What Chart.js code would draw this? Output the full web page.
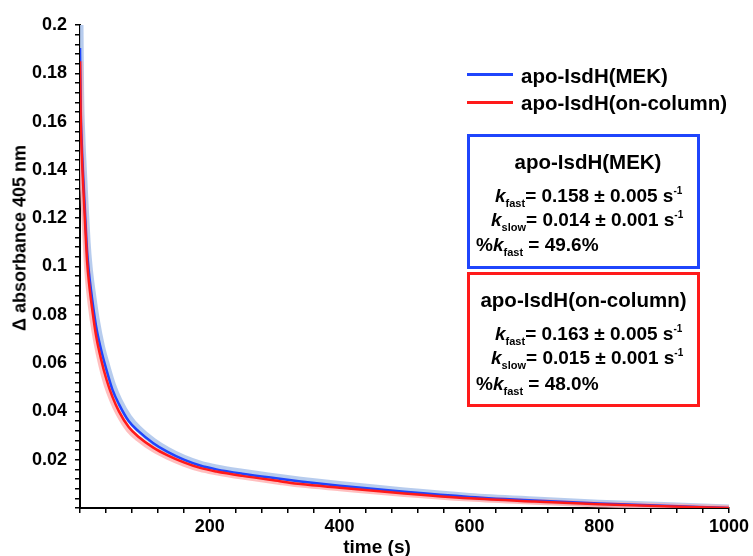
<!DOCTYPE html>
<html>
<head>
<meta charset="utf-8">
<script src="https://cdn.jsdelivr.net/npm/chart.js@4/dist/chart.umd.min.js"></script>
<style>
  html, body { margin:0; padding:0; background:#fff; overflow:hidden; }
  #wrap { position:relative; width:753px; height:556px; font-family: Arial, "Liberation Sans", Helvetica, sans-serif; font-weight:bold; color:#000; }
  canvas { position:absolute; left:0; top:0; }
  .abs { position:absolute; white-space:nowrap; }
  .leg { font-size:20.5px; line-height:22px; }
  .swatch { position:absolute; height:3px; width:46px; }
  .box { position:absolute; border:3px solid; box-sizing:border-box; }
  .bt { font-size:20.5px; line-height:22px; text-align:center; }
  .ln { font-size:19px; line-height:20px; }
  .ln i { font-style:italic; }
  .ln sub { font-size:11px; line-height:0; vertical-align:baseline; position:relative; top:5px; }
  .ln sup { font-size:10px; line-height:0; vertical-align:baseline; position:relative; top:-8px; }
</style>
</head>
<body>
<div id="wrap">
  <canvas id="c" width="753" height="556"></canvas>

  <div class="swatch" style="left:467px; top:73px; background:#1f45fc;"></div>
  <div class="abs leg" style="left:521px; top:65px;">apo-IsdH(MEK)</div>
  <div class="swatch" style="left:467px; top:101px; background:#ff1a1a;"></div>
  <div class="abs leg" style="left:521px; top:92px;">apo-IsdH(on-column)</div>

  <div class="box" style="left:467px; top:134px; width:233px; height:135px; border-color:#1f45fc;"></div>
  <div class="abs bt" style="left:470px; top:151px; width:236px;">apo-IsdH(MEK)</div>
  <div class="abs ln" style="left:495px; top:186px;"><i>k</i><sub>fast</sub>= 0.158 ± 0.005 s<sup>-1</sup></div>
  <div class="abs ln" style="left:491px; top:210px;"><i>k</i><sub>slow</sub>= 0.014 ± 0.001 s<sup>-1</sup></div>
  <div class="abs ln" style="left:476px; top:235px;">%<i>k</i><sub>fast</sub> = 49.6%</div>

  <div class="box" style="left:467px; top:272px; width:233px; height:135px; border-color:#ff1a1a;"></div>
  <div class="abs bt" style="left:467px; top:289px; width:233px;">apo-IsdH(on-column)</div>
  <div class="abs ln" style="left:495px; top:324px;"><i>k</i><sub>fast</sub>= 0.163 ± 0.005 s<sup>-1</sup></div>
  <div class="abs ln" style="left:491px; top:348px;"><i>k</i><sub>slow</sub>= 0.015 ± 0.001 s<sup>-1</sup></div>
  <div class="abs ln" style="left:476px; top:374px;">%<i>k</i><sub>fast</sub> = 48.0%</div>

  <div class="abs" style="left:377px; top:547px; transform:translate(-50%,-50%); font-size:19px;">time (s)</div>
  <div class="abs" style="left:20px; top:238px; transform:translate(-50%,-50%) rotate(-90deg); font-size:18px;">Δ absorbance 405 nm</div>
</div>
<script>
// ---- data ----
const time = [0, 1, 3, 5, 8, 11, 14, 19, 25, 33, 41, 50, 60, 75, 90, 113, 135, 160, 185, 210, 250, 308, 340, 400, 500, 600, 700, 800, 900, 1000];
const fitMEK = [0.1905, 0.167, 0.149, 0.137, 0.121, 0.106, 0.097, 0.086, 0.075, 0.065, 0.057, 0.049, 0.043, 0.036, 0.0318, 0.0268, 0.0232, 0.0200, 0.0176, 0.0160, 0.0142, 0.0121, 0.0110, 0.0092, 0.0067, 0.0046, 0.0031, 0.0019, 0.0009, 0.0];
const fitOnColumn = [0.185, 0.163, 0.145, 0.133, 0.117, 0.102, 0.093, 0.082, 0.071, 0.061, 0.053, 0.046, 0.040, 0.0335, 0.0295, 0.0250, 0.0218, 0.0189, 0.0166, 0.0151, 0.0133, 0.0111, 0.0099, 0.0084, 0.0060, 0.0040, 0.0027, 0.0016, 0.0007, 0.0];
const rawMEK = [0.2, 0.172, 0.153, 0.141, 0.125, 0.110, 0.100, 0.089, 0.078, 0.067, 0.059, 0.051, 0.0445, 0.0375, 0.0328, 0.0276, 0.0239, 0.0206, 0.0182, 0.0166, 0.0148, 0.0126, 0.0115, 0.0097, 0.0070, 0.0048, 0.0033, 0.0020, 0.0010, 0.0];
const rawOnColumn = [0.185, 0.160, 0.142, 0.130, 0.114, 0.099, 0.090, 0.079, 0.069, 0.059, 0.051, 0.0445, 0.0388, 0.0325, 0.0287, 0.0243, 0.0212, 0.0184, 0.0162, 0.0148, 0.0130, 0.0108, 0.0097, 0.0082, 0.0058, 0.0039, 0.0026, 0.0015, 0.0007, 0.0];
const seriesNames = ['apo-IsdH(MEK)', 'apo-IsdH(on-column)'];
const xTickLabels = [200, 400, 600, 800, 1000];
const yTickLabels = [0.02, 0.04, 0.06, 0.08, 0.1, 0.12, 0.14, 0.16, 0.18, 0.2];

const pts = arr => time.map((t, i) => ({ x: t, y: arr[i] }));
const near = (v, list) => list.find(l => Math.abs(l - v) < 1e-7);

const mk = (label, arr, color, w, order) => ({
  label, data: pts(arr), borderColor: color, borderWidth: w, order,
  pointRadius: 0, fill: false, cubicInterpolationMode: 'monotone'
});

new Chart(document.getElementById('c'), {
  type: 'line',
  data: {
    datasets: [
      mk(seriesNames[0] + ' data', rawMEK, 'rgba(175,198,236,0.9)', 7, 4),
      mk(seriesNames[1] + ' data', rawOnColumn, 'rgba(255,170,170,0.75)', 6, 3),
      mk(seriesNames[0], fitMEK, '#1f45fc', 2.5, 2),
      mk(seriesNames[1], fitOnColumn, '#ff1a1a', 2.5, 1)
    ]
  },
  options: {
    responsive: false,
    animation: false,
    events: [],
    layout: { padding: { left: 0, right: 24, top: 25, bottom: 0 } },
    plugins: { legend: { display: false }, tooltip: { enabled: false } },
    scales: {
      x: {
        type: 'linear', min: 0, max: 1000,
        afterFit: s => { s.height = 48; },
        border: { color: '#000', width: 2 },
        grid: { drawOnChartArea: false, drawTicks: true, tickLength: 5, color: '#000', lineWidth: 1.5 },
        ticks: {
          stepSize: 40, autoSkip: false, maxRotation: 0, padding: 3, color: '#000',
          font: { family: 'Arial, "Liberation Sans", sans-serif', size: 18, weight: 'bold' },
          callback: v => { const m = near(v, xTickLabels); return m !== undefined ? String(m) : ''; }
        }
      },
      y: {
        type: 'linear', min: 0, max: 0.2,
        afterFit: s => { s.width = 80; },
        border: { color: '#000', width: 2 },
        grid: { drawOnChartArea: false, drawTicks: true, tickLength: 5, color: '#000', lineWidth: 1.5 },
        ticks: {
          stepSize: 0.004, autoSkip: false, padding: 8, color: '#000',
          font: { family: 'Arial, "Liberation Sans", sans-serif', size: 18, weight: 'bold' },
          callback: v => { const m = near(v, yTickLabels); return m !== undefined ? String(m) : ''; }
        }
      }
    }
  }
});
</script>
</body>
</html>
